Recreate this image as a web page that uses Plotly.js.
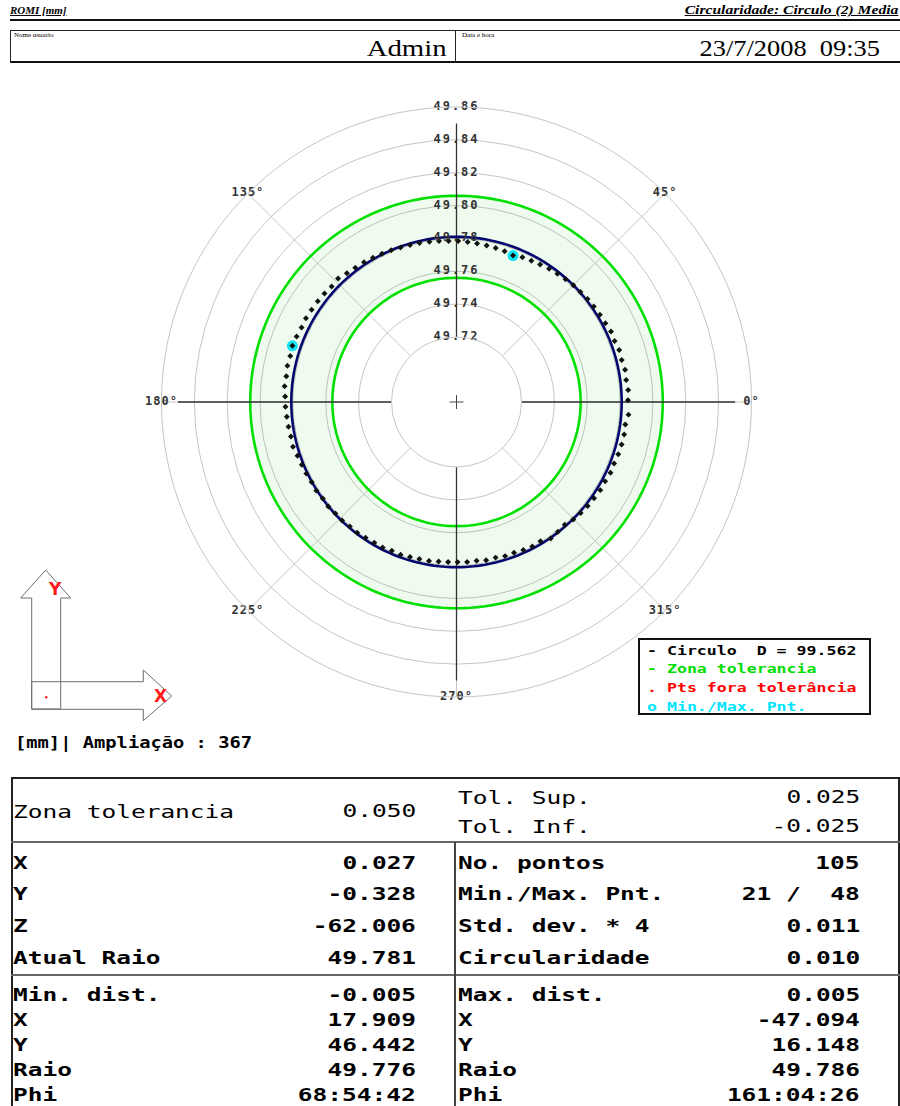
<!DOCTYPE html>
<html>
<head>
<meta charset="utf-8">
<script src="https://cdn.plot.ly/plotly-3.0.1.min.js"></script>
<style>
html,body{margin:0;padding:0;background:#fff;}
#page{position:relative;width:900px;height:1106px;overflow:hidden;background:#fff;}
#plot{position:absolute;left:0;top:0;width:900px;height:1106px;z-index:1;}
#overlay{position:absolute;left:0;top:0;width:900px;height:1106px;z-index:2;pointer-events:none;}
.t{position:absolute;white-space:pre;line-height:1;}
.box{position:absolute;box-sizing:border-box;}
.polarlayer .trace:nth-last-child(2) text{letter-spacing:2px;}
.polarlayer .trace:last-child text{letter-spacing:1px;}
</style>
</head>
<body>
<div id="page"><div id="plot"></div><div id="overlay"></div></div>
<script>
// ================= DATA =================
const nominalRadius = 49.781;          // Atual Raio
const tolSup = 0.025;                  // Tol. Sup.
const tolInf = -0.025;                 // Tol. Inf.
const radialTicks = [49.72, 49.74, 49.76, 49.78, 49.80, 49.82, 49.84, 49.86];
const radialTickLabels = ['49.72', '49.74', '49.76', '49.78', '49.80', '49.82', '49.84', '49.86'];
const angleTicks = [0, 45, 135, 180, 225, 270, 315];
const angleTickLabels = ['0°', '45°', '135°', '180°', '225°', '270°', '315°'];
const mainAxesAngles = [0, 90, 180, 270];

// measured points (105): angle in degrees, deviation from fitted circle in mm
const pointAngles = [
  0.6, 4.0, 7.4, 10.8, 14.3, 17.7, 21.1, 24.5, 27.9, 31.3,
  34.8, 38.2, 41.6, 45.0, 48.4, 51.8, 55.2, 58.7, 62.1, 65.5,
  68.9, 72.3, 75.7, 79.1, 82.6, 86.0, 89.4, 92.8, 96.2, 99.6,
  103.1, 106.5, 109.9, 113.3, 116.7, 120.1, 123.5, 127.0, 130.4, 133.8,
  137.2, 140.6, 144.0, 147.5, 150.9, 154.3, 157.7, 161.1, 164.5, 167.9,
  171.4, 174.8, 178.2, 181.6, 185.0, 188.4, 191.8, 195.3, 198.7, 202.1,
  205.5, 208.9, 212.3, 215.8, 219.2, 222.6, 226.0, 229.4, 232.8, 236.2,
  239.7, 243.1, 246.5, 249.9, 253.3, 256.7, 260.2, 263.6, 267.0, 270.4,
  273.8, 277.2, 280.6, 284.1, 287.5, 290.9, 294.3, 297.7, 301.1, 304.6,
  308.0, 311.4, 314.8, 318.2, 321.6, 325.0, 328.5, 331.9, 335.3, 338.7,
  342.1, 345.6, 349.0, 352.4, 355.8
];
const pointDeviations = [
  0.0038, 0.0042, 0.0036, 0.0039, 0.0032, 0.0034, 0.0026, 0.0028, 0.0020, 0.0016,
  0.0012, 0.0009, 0.0003, 0.0000, -0.0006, -0.0012, -0.0018, -0.0026, -0.0032, -0.0038,
  -0.0050, -0.0042, -0.0039, -0.0036, -0.0033, -0.0030, -0.0026, -0.0024, -0.0020, -0.0017,
  -0.0012, -0.0009, -0.0005, 0.0000, 0.0004, 0.0009, 0.0014, 0.0018, 0.0024, 0.0036,
  0.0030, 0.0034, 0.0038, 0.0040, 0.0043, 0.0041, 0.0046, 0.0050, 0.0044, 0.0047,
  0.0042, 0.0045, 0.0038, 0.0036, 0.0031, 0.0028, 0.0024, 0.0026, 0.0016, 0.0010,
  0.0007, 0.0002, 0.0004, -0.0002, 0.0001, -0.0004, -0.0003, -0.0008, -0.0006, -0.0011,
  -0.0014, -0.0012, -0.0018, -0.0016, -0.0021, -0.0024, -0.0023, -0.0028, -0.0030, -0.0031,
  -0.0029, -0.0032, -0.0026, -0.0029, -0.0022, -0.0024, -0.0017, -0.0013, -0.0016, 0.0004,
  -0.0003, -0.0009, 0.0003, 0.0008, 0.0013, 0.0016, 0.0021, 0.0020, 0.0026, 0.0024,
  0.0029, 0.0032, 0.0034, 0.0031, 0.0044
];
const minPointNo = 21;
const maxPointNo = 48;

// legend / info texts
const legendLines = ['- Circulo  D = 99.562', '- Zona tolerancia', '. Pts fora tolerância', 'o Min./Max. Pnt.'];
const magnificationText = '[mm]| Ampliação : 367';

// table texts
const topLabel = 'Zona tolerancia', topValue = '0.050';
const tolLabels = ['Tol. Sup.', 'Tol. Inf.'];
const tolValues = ['0.025', '-0.025'];
const midLeftLabels = ['X', 'Y', 'Z', 'Atual Raio'];
const midLeftValues = ['0.027', '-0.328', '-62.006', '49.781'];
const midRightLabels = ['No. pontos', 'Min./Max. Pnt.', 'Std. dev. * 4', 'Circularidade'];
const midRightValues = ['105', '21 /  48', '0.011', '0.010'];
const botLeftLabels = ['Min. dist.', 'X', 'Y', 'Raio', 'Phi'];
const botLeftValues = ['-0.005', '17.909', '46.442', '49.776', '68:54:42'];
const botRightLabels = ['Max. dist.', 'X', 'Y', 'Raio', 'Phi'];
const botRightValues = ['0.005', '-47.094', '16.148', '49.786', '161:04:26'];

// ================= CHART =================
const W = 900, H = 1106;
const CX = 456.5, CY = 402, RPX = 295, HOLEPX = 65;
const domX = [(CX - RPX) / W, (CX + RPX) / W];
const domY = [1 - (CY + RPX) / H, 1 - (CY - RPX) / H];
const rMin = radialTicks[0], rMax = radialTicks[radialTicks.length - 1];
const spokeEnd = rMax - 0.01;   // main axis lines stop short of the angle labels

const circleTheta = [];
for (let a = 0; a <= 360; a += 2) circleTheta.push(a);

const pointR = pointDeviations.map(d => nominalRadius + d);

const spokeR = [], spokeT = [];
mainAxesAngles.forEach(a => {
  spokeR.push(rMin, spokeEnd, null);
  spokeT.push(a, a, null);
});

const mono = '"DejaVu Sans Mono", monospace';

const traces = [
  { type: 'barpolar', r: [tolSup - tolInf], base: [nominalRadius + tolInf], theta: [0], width: [360],
    marker: { color: 'rgba(0,200,0,0.065)', line: { width: 0 } }, hoverinfo: 'skip' },
  { type: 'scatterpolar', mode: 'lines', theta: circleTheta, r: circleTheta.map(() => nominalRadius + tolSup),
    line: { color: '#00e000', width: 2.6 }, hoverinfo: 'skip' },
  { type: 'scatterpolar', mode: 'lines', theta: circleTheta, r: circleTheta.map(() => nominalRadius + tolInf),
    line: { color: '#00e000', width: 2.6 }, hoverinfo: 'skip' },
  { type: 'scatterpolar', mode: 'lines', theta: spokeT, r: spokeR,
    line: { color: '#333333', width: 1.3 }, hoverinfo: 'skip', cliponaxis: false },
  { type: 'scatterpolar', mode: 'lines', theta: circleTheta, r: circleTheta.map(() => nominalRadius),
    line: { color: '#05056e', width: 2.6 }, hoverinfo: 'skip' },
  { type: 'scatterpolar', mode: 'markers',
    theta: [pointAngles[minPointNo - 1], pointAngles[maxPointNo - 1]],
    r: [pointR[minPointNo - 1], pointR[maxPointNo - 1]],
    marker: { symbol: 'circle', size: 11, color: '#10e4f4' }, hoverinfo: 'skip' },
  { type: 'scatterpolar', mode: 'markers', theta: pointAngles, r: pointR,
    marker: { symbol: 'diamond', size: 4.6, color: '#111111' } },
  { type: 'scatterpolar', mode: 'text', theta: radialTicks.map(() => 90), r: radialTicks,
    text: radialTickLabels, textposition: 'middle center', cliponaxis: false,
    textfont: { family: mono, size: 12, weight: 'bold', color: '#333333' }, hoverinfo: 'skip' },
  { type: 'scatterpolar', mode: 'text', theta: angleTicks, r: angleTicks.map(() => rMax),
    text: angleTickLabels, textposition: 'middle center', cliponaxis: false,
    textfont: { family: mono, size: 12, weight: 'bold', color: '#333333' }, hoverinfo: 'skip' }
];

function P(x, y) { return (x / W).toFixed(5) + ',' + (1 - y / H).toFixed(5); }
function path(pts) { return 'M' + pts.map(p => P(p[0], p[1])).join(' L') + ' Z'; }

const cxp = (domX[0] + domX[1]) / 2, cyp = (domY[0] + domY[1]) / 2;
const shapes = [
  { type: 'path', xref: 'paper', yref: 'paper', line: { color: '#6e6e6e', width: 1 },
    path: path([[31.7, 709], [31.7, 598], [20.7, 598], [45.7, 570], [70.7, 598], [60.7, 598], [60.7, 709]]) },
  { type: 'path', xref: 'paper', yref: 'paper', line: { color: '#6e6e6e', width: 1 },
    path: path([[31.7, 681.7], [143.3, 681.7], [143.3, 670], [171.7, 696], [143.3, 720.7], [143.3, 709.3], [31.7, 709.3]]) },
  { type: 'circle', xref: 'paper', yref: 'paper', fillcolor: '#ff2020', line: { width: 0 },
    x0: 45 / W, x1: 47.5 / W, y0: 1 - 698.5 / H, y1: 1 - 696 / H },
  { type: 'line', xref: 'paper', yref: 'paper', line: { color: '#444', width: 1 },
    x0: cxp - 7 / W, x1: cxp + 7 / W, y0: cyp, y1: cyp },
  { type: 'line', xref: 'paper', yref: 'paper', line: { color: '#444', width: 1 },
    x0: cxp, x1: cxp, y0: cyp - 7 / H, y1: cyp + 7 / H }
];

const annotations = [
  { xref: 'paper', yref: 'paper', x: 45.7 / W, y: 1 - 589 / H, text: 'Y', showarrow: false,
    font: { family: 'DejaVu Sans', size: 17, weight: 'bold', color: '#ff1a1a' } },
  { xref: 'paper', yref: 'paper', x: 152 / W, y: 1 - 696 / H, text: 'X', showarrow: false,
    font: { family: 'DejaVu Sans', size: 17, weight: 'bold', color: '#ff1a1a' } }
];

const layout = {
  width: W, height: H,
  margin: { l: 0, r: 0, t: 0, b: 0, pad: 0 },
  paper_bgcolor: 'rgba(0,0,0,0)', plot_bgcolor: 'rgba(0,0,0,0)',
  showlegend: false,
  polar: {
    domain: { x: domX, y: domY },
    hole: HOLEPX / RPX,
    bgcolor: 'rgba(0,0,0,0)',
    barmode: 'overlay',
    radialaxis: {
      range: [rMin, rMax],
      tickvals: radialTicks, showticklabels: false, ticks: '',
      showline: false, gridcolor: '#c6c6c6', gridwidth: 1
    },
    angularaxis: {
      rotation: 0, direction: 'counterclockwise',
      tickmode: 'array', tickvals: angleTicks, showticklabels: false, ticks: '',
      showgrid: true, gridcolor: '#c6c6c6', gridwidth: 1,
      showline: true, linecolor: '#c6c6c6', linewidth: 1
    }
  },
  shapes: shapes,
  annotations: annotations
};

Plotly.newPlot('plot', traces, layout, { staticPlot: true, displayModeBar: false });

// ================= PAGE OVERLAY (header, legend, table) =================
const overlay = document.getElementById('overlay');
function put(txt, x, y, o) {
  const d = document.createElement('div');
  d.className = 't';
  d.textContent = txt;
  const s = o.size;
  d.style.fontSize = s + 'px';
  d.style.fontFamily = o.family;
  d.style.fontWeight = o.weight || 'normal';
  d.style.fontStyle = o.italic ? 'italic' : 'normal';
  d.style.color = o.color || '#000';
  if (o.underline) d.style.textDecoration = 'underline';
  d.style.top = (y - 0.49 * s) + 'px';
  const sx = o.sx || 1;
  if (o.align === 'right') { d.style.right = (W - x) + 'px'; d.style.transformOrigin = 'right center'; }
  else { d.style.left = x + 'px'; d.style.transformOrigin = 'left center'; }
  if (sx !== 1) d.style.transform = 'scaleX(' + sx + ')';
  overlay.appendChild(d);
}
function rect(x, y, w, h, css) {
  const d = document.createElement('div');
  d.className = 'box';
  d.style.left = x + 'px'; d.style.top = y + 'px';
  d.style.width = w + 'px'; d.style.height = h + 'px';
  Object.assign(d.style, css);
  overlay.appendChild(d);
}
const serif = '"Liberation Serif", "DejaVu Serif", serif';
const monoCss = '"DejaVu Sans Mono", monospace';

// header
put('ROMI [mm]', 10, 10, { size: 11, family: serif, weight: 'bold', italic: true, underline: true });
put('Circularidade: Circulo (2) Media', 898, 10, { size: 12, family: serif, weight: 'bold', italic: true, underline: true, align: 'right', sx: 1.3 });
rect(10, 19, 890, 2, { background: '#111' });
rect(10, 30, 892, 33, { borderTop: '1px solid #222', borderLeft: '1px solid #222', borderBottom: '2.5px solid #111' });
rect(455, 30, 1, 32, { background: '#222' });
put('Nome usuario', 14, 35, { size: 7, family: serif });
put('Data e hora', 462, 35, { size: 7, family: serif });
put('Admin', 447, 48, { size: 24, family: serif, align: 'right', sx: 1.2 });
put('23/7/2008  09:35', 880, 48, { size: 24, family: serif, align: 'right', sx: 1.1 });

// legend box
rect(638, 638, 233, 77, { border: '2px solid #111', background: '#fff' });
const legendColors = ['#000000', '#00dd00', '#ff0000', '#00e5ff'];
const legendY = [651, 669, 688, 707];
legendLines.forEach((s, i) => put(s, 647, legendY[i], { size: 12, family: monoCss, weight: 'bold', color: legendColors[i], sx: 1.38 }));

// magnification text
put(magnificationText, 15, 743, { size: 15, family: monoCss, weight: 'bold', sx: 1.25 });

// table frame
rect(11, 777, 889, 340, { border: '2px solid #222' });
rect(11, 841, 889, 2, { background: '#666' });
rect(11, 974, 889, 2, { background: '#666' });
rect(454, 842, 2, 270, { background: '#444' });

const tbl = { size: 18, family: monoCss, sx: 1.36 };
put(topLabel, 13, 812, tbl);
put(topValue, 416, 811, Object.assign({}, tbl, { align: 'right' }));
const tolY = [798, 827];
tolLabels.forEach((s, i) => put(s, 458, tolY[i], tbl));
tolValues.forEach((s, i) => put(s, 860, tolY[i] - 1, Object.assign({}, tbl, { align: 'right' })));

const tb = Object.assign({}, tbl, { weight: 'bold' });
const tbr = Object.assign({}, tb, { align: 'right' });
const midY = [863, 894, 926, 958];
midLeftLabels.forEach((s, i) => put(s, 13, midY[i], tb));
midLeftValues.forEach((s, i) => put(s, 416, midY[i], tbr));
midRightLabels.forEach((s, i) => put(s, 458, midY[i], tb));
midRightValues.forEach((s, i) => put(s, 860, midY[i], tbr));
const botY = [995, 1020, 1045, 1070, 1095];
botLeftLabels.forEach((s, i) => put(s, 13, botY[i], tb));
botLeftValues.forEach((s, i) => put(s, 416, botY[i], tbr));
botRightLabels.forEach((s, i) => put(s, 458, botY[i], tb));
botRightValues.forEach((s, i) => put(s, 860, botY[i], tbr));
</script>
</body>
</html>
